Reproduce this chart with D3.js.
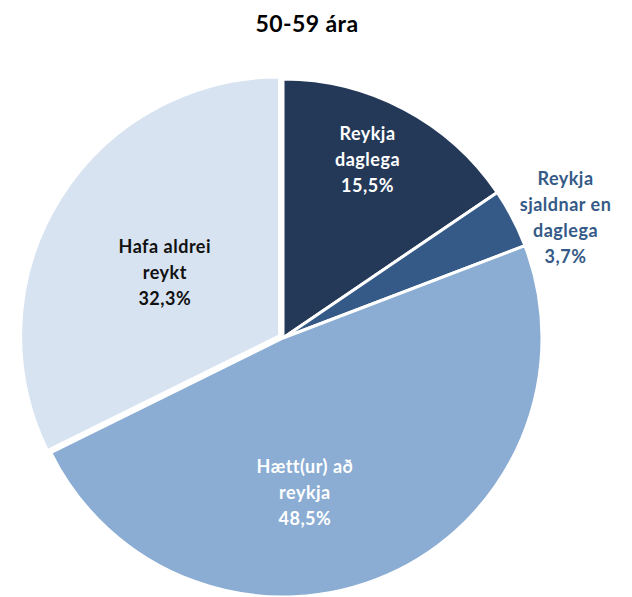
<!DOCTYPE html>
<html><head><meta charset="utf-8">
<script src="https://cdn.jsdelivr.net/npm/d3@7"></script>
<style>body{margin:0;background:#fff}svg{display:block}text{font-family:Lato,"Open Sans",sans-serif;font-weight:bold}</style>
</head><body>
<script>
const title = "50-59 ára";
const categories = ["Reykja daglega", "Reykja sjaldnar en daglega", "Hætt(ur) að reykja", "Hafa aldrei reykt"];
const values = [15.5, 3.7, 48.5, 32.3];
const labelLines = [["Reykja","daglega"],["Reykja","sjaldnar en","daglega"],["Hætt(ur) að","reykja"],["Hafa aldrei","reykt"]];
const colors = ["#243858", "#355a87", "#8badd3", "#d7e3f0"];
const labelColors = ["#ffffff", "#355a87", "#ffffff", "#111111"];

const W = 632, H = 597, cx = 283, cy = 338, R = 259;
// label placement (polar: angle offset from slice mid in degrees, radius) and slice explode offsets
const labelPlace = [{da:-2.5,r:197},{da:4.5,r:307},{da:15.5,r:156},{da:-3,r:135}];
const explode = [0, 0, 0, 4];

const fmt = v => d3.format(".1f")(v).replace(".", ",") + "%";
const svg = d3.select("body").append("svg").attr("width", W).attr("height", H);
svg.append("text").attr("x", 307).attr("y", 32).attr("text-anchor","middle")
  .attr("font-size", 23).attr("letter-spacing", 0.4).attr("fill","#000").text(title);

const data = categories.map((c,i)=>({c, v:values[i], i}));
const pie = d3.pie().value(d=>d.v).sort(null);
const arc = d3.arc().innerRadius(0).outerRadius(R);
const g = svg.append("g").attr("transform", `translate(${cx},${cy})`);
const arcs = pie(data);
g.selectAll("path").data(arcs).join("path")
  .attr("d", arc).attr("fill", d=>colors[d.data.i])
  .attr("transform", d=>{
    const m=(d.startAngle+d.endAngle)/2, e=explode[d.data.i];
    return `translate(${Math.sin(m)*e},${-Math.cos(m)*e})`;
  })
  .attr("stroke","#fff").attr("stroke-width",3).attr("stroke-linejoin","round");

const lh = 26, fs = 18;
arcs.forEach(a=>{
  const i = a.data.i, p = labelPlace[i];
  const ang = (a.startAngle + a.endAngle)/2 + p.da*Math.PI/180;
  const x = Math.sin(ang)*p.r, y = -Math.cos(ang)*p.r;
  const lines = labelLines[i].concat([fmt(values[i])]);
  const t = g.append("text").attr("text-anchor","middle").attr("font-size",fs)
    .attr("letter-spacing",0.5).attr("fill", labelColors[i]);
  const y0 = y - (lines.length-1)*lh/2 + fs*0.35;
  lines.forEach((l,k)=>t.append("tspan").attr("x",x).attr("y",y0+k*lh).text(l));
});
</script>
</body></html>
